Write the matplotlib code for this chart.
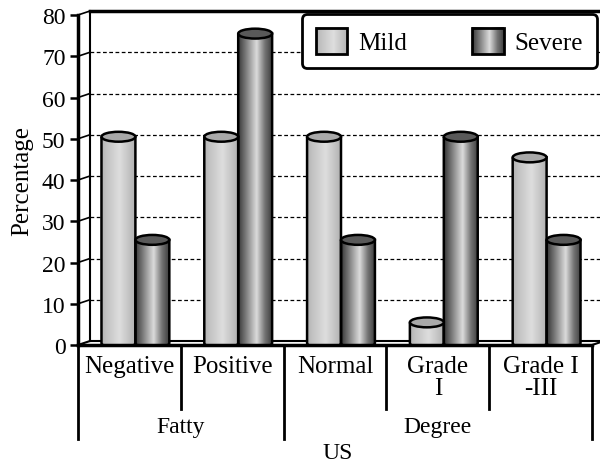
import numpy as np
import matplotlib
matplotlib.use('Agg')
import matplotlib.pyplot as plt
from matplotlib import font_manager as fm
from matplotlib.patches import Ellipse, Rectangle, PathPatch
from matplotlib.path import Path
from matplotlib.legend_handler import HandlerBase
from matplotlib.image import BboxImage
from matplotlib.transforms import Bbox, TransformedBbox

# data
categories = ['Negative', 'Positive', 'Normal', 'Grade\nI', 'Grade I\n-III']
groups = ['Fatty', 'Degree']
group_sizes = [2, 3]
mild = [50, 50, 50, 5, 45]
severe = [25, 75, 25, 50, 25]
series_names = ['Mild', 'Severe']

# pick a Times-like serif font that is installed
available = set(f.name for f in fm.fontManager.ttflist)
serif = 'DejaVu Serif'
for name in ['Liberation Serif', 'Tinos', 'Times New Roman', 'Nimbus Roman', 'TeX Gyre Termes',
             'FreeSerif', 'STIX Two Text', 'STIXGeneral']:
    if name in available:
        serif = name
        break
plt.rcParams['font.family'] = [serif, 'DejaVu Serif']

fig = plt.figure(figsize=(6, 4.64), dpi=100)
# axes: front plane, from x=78px to 592px, y=16px to 346px
ax = fig.add_axes([78 / 600, 118 / 464, 514 / 600, 330 / 464])
ax.set_xlim(-0.5, len(categories) - 0.5)
ax.set_ylim(0, 80)

# 3d depth offset (data units)
ddx = 12 / 514 * len(categories)
ddy = 4 / 330 * 80


# gradient colours for cylinders
def grad(stops, n=64):
    p = [s[0] for s in stops]
    val = [s[1] for s in stops]
    g = np.interp(np.linspace(0, 1, n), p, val)
    return np.dstack([g, g, g]).reshape(1, n, 3)


mild_grad = grad([(0, 0.70), (0.15, 0.76), (0.55, 0.87), (1, 0.70)])
sev_grad = grad([(0, 0.22), (0.2, 0.45), (0.55, 0.86), (0.8, 0.45), (1, 0.25)])
mild_cap = '#a9a9a9'
sev_cap = '#595959'

# back wall gridlines + side wall diagonals
x_left = -0.5
x_right = len(categories) - 0.5
for v in range(10, 90, 10):
    if v < 80:
        ax.plot([x_left + ddx, x_right + ddx + 0.2], [v + ddy, v + ddy], color='black',
                lw=0.9, ls=(0, (3, 2)), clip_on=False, zorder=1)
    ax.plot([x_left, x_left + ddx], [v, v + ddy], color='black', lw=1.2, clip_on=False, zorder=1)
# back wall top, left edge
ax.plot([x_left + ddx, x_right + ddx + 0.2], [80 + ddy, 80 + ddy], color='black', lw=2.5,
        clip_on=False, zorder=2)
ax.plot([x_left + ddx, x_left + ddx], [ddy, 80 + ddy], color='black', lw=1.5, clip_on=False, zorder=2)
# floor
ax.plot([x_left, x_left + ddx], [0, ddy], color='black', lw=1.5, clip_on=False, zorder=2)
ax.plot([x_left + ddx, x_right + ddx], [ddy, ddy], color='black', lw=1.5, clip_on=False, zorder=2)
ax.plot([x_right, x_right + ddx], [0, ddy], color='black', lw=1.5, clip_on=False, zorder=2)
ax.plot([x_left, x_right], [0, 0], color='black', lw=2.5, clip_on=False, zorder=6)

# cylinders
bw = 0.33
eh = 2.4  # ellipse height in data units
base = ddy / 2


def cylinder(xc, v, cols, cap):
    x0, x1 = xc - bw / 2, xc + bw / 2
    top = v + base
    t = np.linspace(np.pi, 2 * np.pi, 40)
    bot_x = xc + bw / 2 * np.cos(t)
    bot_y = base + eh / 2 * np.sin(t)
    verts = [(x0, top), (x0, base)] + list(zip(bot_x, bot_y)) + [(x1, top), (x0, top)]
    body = PathPatch(Path(verts), facecolor='none', edgecolor='black', lw=1.8, zorder=5)
    ax.add_patch(body)
    im = ax.imshow(cols, extent=(x0, x1, base - eh, top), aspect='auto', zorder=4,
                   interpolation='bilinear')
    im.set_clip_path(body)
    ax.add_patch(Ellipse((xc, top), bw, eh, facecolor=cap, edgecolor='black', lw=1.8, zorder=6))


pos = np.arange(len(categories))
for i in range(len(categories)):
    cylinder(pos[i] + ddx / 2 - bw / 2, mild[i], mild_grad, mild_cap)
    cylinder(pos[i] + ddx / 2 + bw / 2, severe[i], sev_grad, sev_cap)
ax.set_xlim(x_left, x_right)
ax.set_ylim(0, 80)

# axes styling
for s in ['top', 'right', 'bottom']:
    ax.spines[s].set_visible(False)
ax.spines['left'].set_linewidth(2.5)
ax.set_yticks(range(0, 90, 10))
ax.tick_params(axis='y', labelsize=17, width=1.8, length=6, direction='out', pad=3)
ax.set_xticks([])

# multi-level category axis
trans = ax.get_xaxis_transform()
short_y = -64 / 330
long_y = -94 / 330
edges = [x_left] + [i + 0.5 for i in range(len(categories))]
group_edges = [0] + list(np.cumsum(group_sizes))
for k, e in enumerate(edges):
    yb = long_y if k in group_edges else short_y
    ax.plot([e, e], [0, yb], color='black', lw=2, transform=trans, clip_on=False)
for i, c in enumerate(categories):
    ax.text(pos[i], -10 / 330, c, transform=trans, ha='center', va='top', fontsize=18,
            linespacing=1.0)
for g, name in enumerate(groups):
    gc = (group_edges[g] + group_edges[g + 1]) / 2 - 0.5
    ax.text(gc, -82 / 330, name, transform=trans, ha='center', va='center', fontsize=17)

fig.text(338 / 600, 1 - 454 / 464, 'US', ha='center', va='center', fontsize=17)
fig.text(22 / 600, 1 - 181 / 464, 'Percentage', ha='center', va='center', rotation=90, fontsize=18)


# legend with gradient squares
class GradHandler(HandlerBase):
    def __init__(self, cols):
        super().__init__()
        self.cols = cols

    def create_artists(self, legend, orig_handle, xdescent, ydescent, width, height, fontsize, trans):
        bb = TransformedBbox(Bbox.from_bounds(-xdescent, -ydescent, width, height), trans)
        img = BboxImage(bb, interpolation='bilinear')
        img.set_data(self.cols)
        rect = Rectangle((-xdescent, -ydescent), width, height, facecolor='none',
                         edgecolor='black', lw=2, transform=trans)
        return [img, rect]


h1 = Rectangle((0, 0), 1, 1)
h2 = Rectangle((0, 0), 1, 1)
leg = fig.legend([h1, h2], series_names, loc='upper right', bbox_to_anchor=(597 / 600, 1 - 15 / 464),
                 ncol=2, fontsize=18, handlelength=1.25, handleheight=1.25, handletextpad=0.45,
                 columnspacing=2.6, borderpad=0.55, borderaxespad=0, fancybox=True, framealpha=1,
                 handler_map={h1: GradHandler(mild_grad), h2: GradHandler(sev_grad)})
leg.get_frame().set_edgecolor('black')
leg.get_frame().set_linewidth(2)

fig.savefig('out.png', dpi=100)
